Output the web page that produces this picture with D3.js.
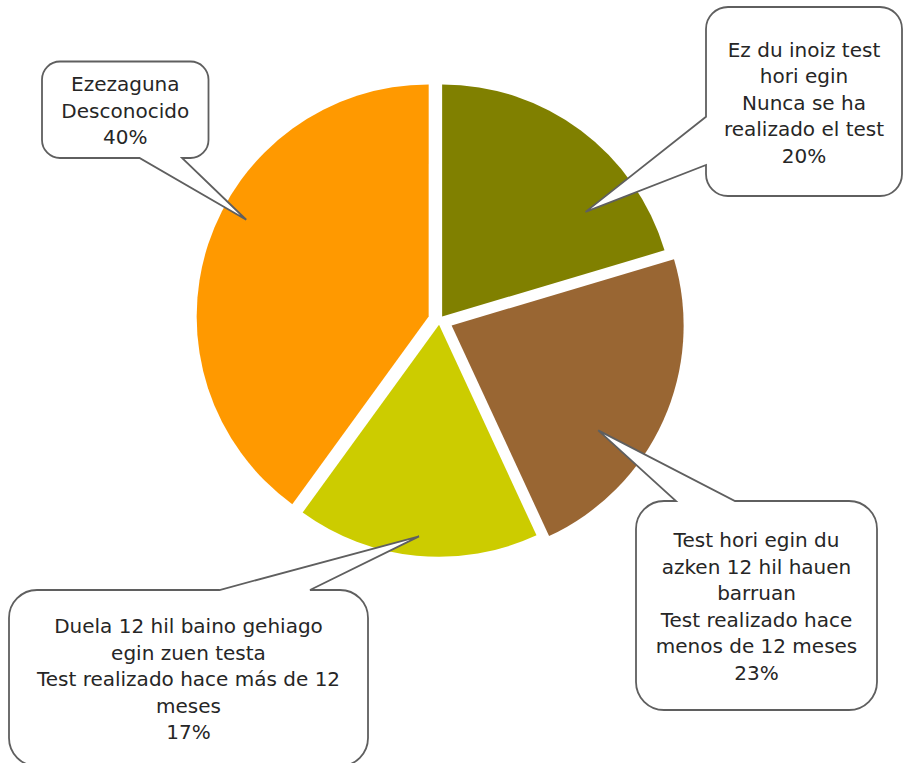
<!DOCTYPE html>
<html><head><meta charset="utf-8">
<script src="https://cdn.jsdelivr.net/npm/d3@7"></script>
<style>html,body{margin:0;padding:0;background:#fff;} svg{display:block;}</style>
</head><body>
<svg id="c" width="904" height="763"></svg>
<script>
// ---- data ----
const categories = ["Nunca", "Menos de 12 meses", "Más de 12 meses", "Desconocido"];
const labelLines = [
  ["Ez du inoiz test", "hori egin", "Nunca se ha", "realizado el test"],
  ["Test hori egin du", "azken 12 hil hauen", "barruan", "Test realizado hace", "menos de 12 meses"],
  ["Duela 12 hil baino gehiago", "egin zuen testa", "Test realizado hace más de 12", "meses"],
  ["Ezezaguna", "Desconocido"]
];
const values = [20.4, 22.7, 16.9, 40.0];

// ---- style / layout ----
const colors = ["#808000", "#996633", "#CCCC00", "#FF9900"];
const explode = [4.4, 13.3, 4.8, 11.4];
const CX = 439.5, CY = 320, R = 232;
// callout boxes: [x0,y0,x1,y1,cornerRadius, side, b1, b2], tip as (fraction of slice angle, fraction of radius)
const boxes = [
  [706, 7, 902, 196, 22, "left", 116.7, 165],
  [636, 501, 877, 710, 28, "top", 676, 735],
  [9, 590, 368, 766, 28, "top", 219.5, 310],
  [42, 61.5, 208.5, 158, 18, "bottom", 139.5, 182]
];
const tips = [[0.734, 0.765], [0.638, 0.777], [0.497, 0.916], [0.569, 0.89]];

const svg = d3.select("#c");
svg.append("rect").attr("width", 904).attr("height", 763).attr("fill", "#fff");

const pie = d3.pie().sort(null).value(d => d);
const arcs = pie(values);
const arc = d3.arc().innerRadius(0).outerRadius(R);

const gPie = svg.append("g").attr("transform", `translate(${CX},${CY})`);
const offsets = arcs.map((a, i) => {
  const mid = (a.startAngle + a.endAngle) / 2;
  return [Math.sin(mid) * explode[i], -Math.cos(mid) * explode[i]];
});
gPie.selectAll("path.slice").data(arcs).join("path")
  .attr("class", "slice")
  .attr("d", arc)
  .attr("fill", (d, i) => colors[i])
  .attr("transform", (d, i) => `translate(${offsets[i][0]},${offsets[i][1]})`);

function calloutPath(b, tip) {
  const [x0, y0, x1, y1, r, side, b1, b2] = b;
  const [tx, ty] = tip;
  let p = `M${x0 + r},${y0}`;
  if (side === "top") p += `L${b1},${y0}L${tx},${ty}L${b2},${y0}`;
  p += `L${x1 - r},${y0}A${r},${r} 0 0 1 ${x1},${y0 + r}`;
  if (side === "right") p += `L${x1},${b1}L${tx},${ty}L${x1},${b2}`;
  p += `L${x1},${y1 - r}A${r},${r} 0 0 1 ${x1 - r},${y1}`;
  if (side === "bottom") p += `L${b2},${y1}L${tx},${ty}L${b1},${y1}`;
  p += `L${x0 + r},${y1}A${r},${r} 0 0 1 ${x0},${y1 - r}`;
  if (side === "left") p += `L${x0},${b2}L${tx},${ty}L${x0},${b1}`;
  p += `L${x0},${y0 + r}A${r},${r} 0 0 1 ${x0 + r},${y0}Z`;
  return p;
}

const gLab = svg.append("g");
arcs.forEach((a, i) => {
  const ang = a.startAngle + tips[i][0] * (a.endAngle - a.startAngle);
  const rr = tips[i][1] * R;
  const tip = [CX + offsets[i][0] + Math.sin(ang) * rr, CY + offsets[i][1] - Math.cos(ang) * rr];
  const b = boxes[i];
  gLab.append("path")
    .attr("d", calloutPath(b, tip))
    .attr("fill", "#fff")
    .attr("stroke", "#5f5f5f")
    .attr("stroke-width", 1.8)
    .attr("stroke-linejoin", "miter");
  const lines = labelLines[i].concat([Math.round(values[i]) + "%"]);
  const bx = (b[0] + b[2]) / 2, by = (b[1] + b[3]) / 2;
  const n = lines.length, lh = 26.5;
  const t = gLab.append("text")
    .attr("text-anchor", "middle")
    .attr("font-family", "'DejaVu Sans', sans-serif")
    .attr("font-size", 20)
    .attr("fill", "#262626");
  lines.forEach((ln, j) => {
    t.append("tspan").attr("x", bx).attr("y", by + 8 + (j - (n - 1) / 2) * lh).text(ln);
  });
});
</script>
</body></html>
